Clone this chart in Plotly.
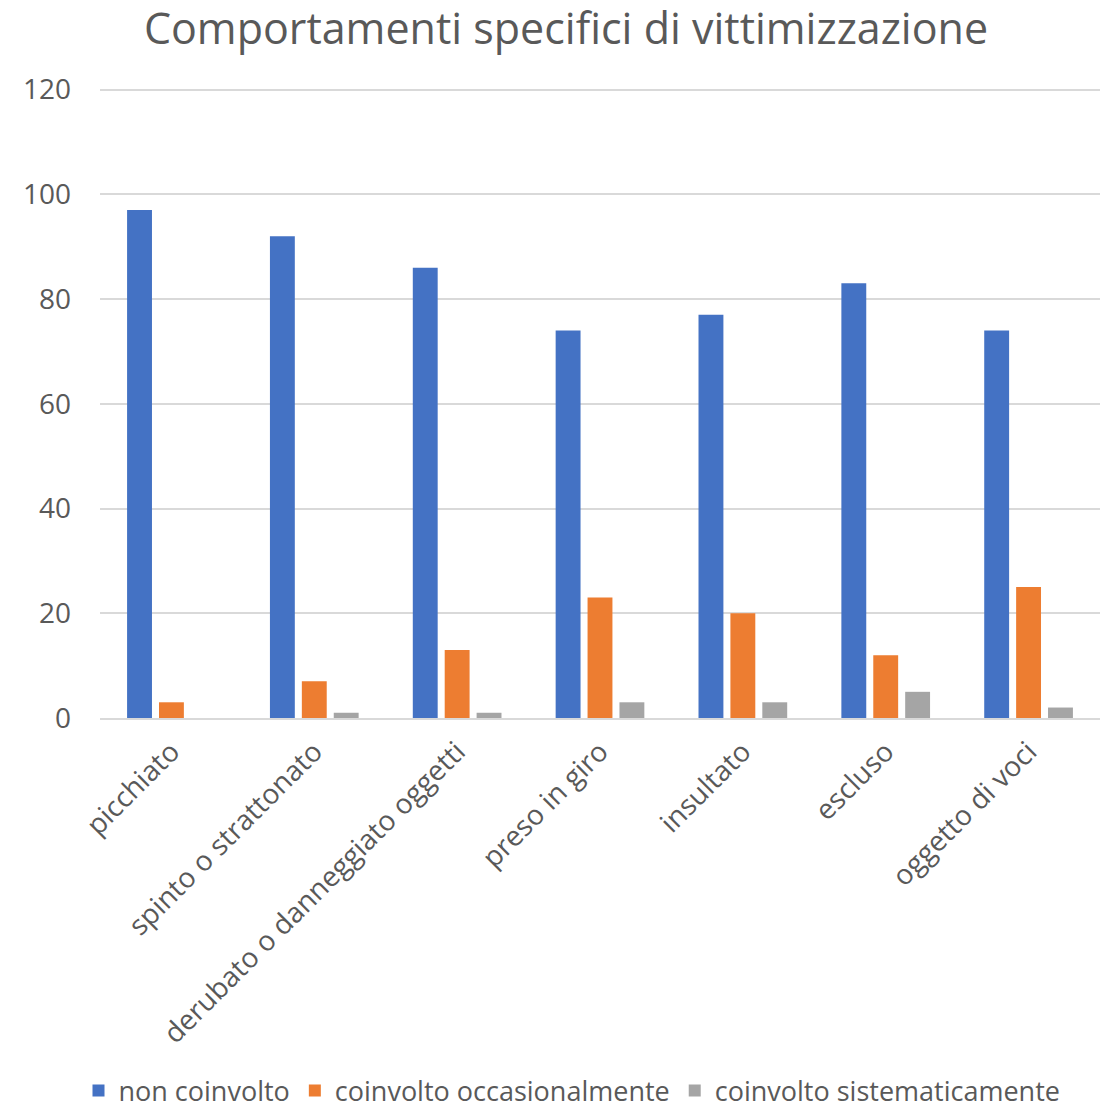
import plotly.graph_objects as go

categories = ["picchiato", "spinto o strattonato", "derubato o danneggiato oggetti",
              "preso in giro", "insultato", "escluso", "oggetto di voci"]
non_coinvolto = [97, 92, 86, 74, 77, 83, 74]
occasionalmente = [3, 7, 13, 23, 20, 12, 25]
sistematicamente = [0, 1, 1, 3, 3, 5, 2]
series_names = ["non coinvolto", "coinvolto occasionalmente", "coinvolto sistematicamente"]
colors = ["#4472C4", "#ED7D31", "#A5A5A5"]

font_family = "Open Sans, Noto Sans, sans-serif"
text_color = "#595959"

W, H = 1100, 1105

fig = go.Figure()
for name, vals, col in zip(series_names, [non_coinvolto, occasionalmente, sistematicamente], colors):
    fig.add_trace(go.Bar(x=categories, y=vals, name=name, marker_color=col,
                         marker_line_width=0))

fig.update_layout(
    width=W, height=H,
    barmode="group", bargap=0.33, bargroupgap=0.22,
    plot_bgcolor="white", paper_bgcolor="white",
    margin=dict(l=92, r=8, t=80, b=395, autoexpand=False),
    title=dict(text="Comportamenti specifici di vittimizzazione", x=558 / W, xanchor="center",
               y=1 - 21 / H, yanchor="middle",
               font=dict(family=font_family, size=43, color=text_color)),
    font=dict(family=font_family, color=text_color),
    legend=dict(orientation="h", xref="container", yref="container",
                x=564 / W, xanchor="center", y=1 - 1083 / H, yanchor="middle",
                font=dict(size=27, color=text_color), itemwidth=30, traceorder="normal"),
    xaxis=dict(tickangle=-45, tickfont=dict(size=28, color=text_color),
               showline=True, linecolor="#D9D9D9", linewidth=2, ticks="",
               ticklabelstandoff=4, automargin=False),
    yaxis=dict(range=[0, 120.3], tickvals=[0, 20, 40, 60, 80, 100, 120],
               showgrid=True, gridcolor="#D9D9D9", gridwidth=1.5,
               zeroline=False, tickfont=dict(size=28, color=text_color),
               ticklabelstandoff=28, automargin=False),
)

fig.write_html("out.html")
